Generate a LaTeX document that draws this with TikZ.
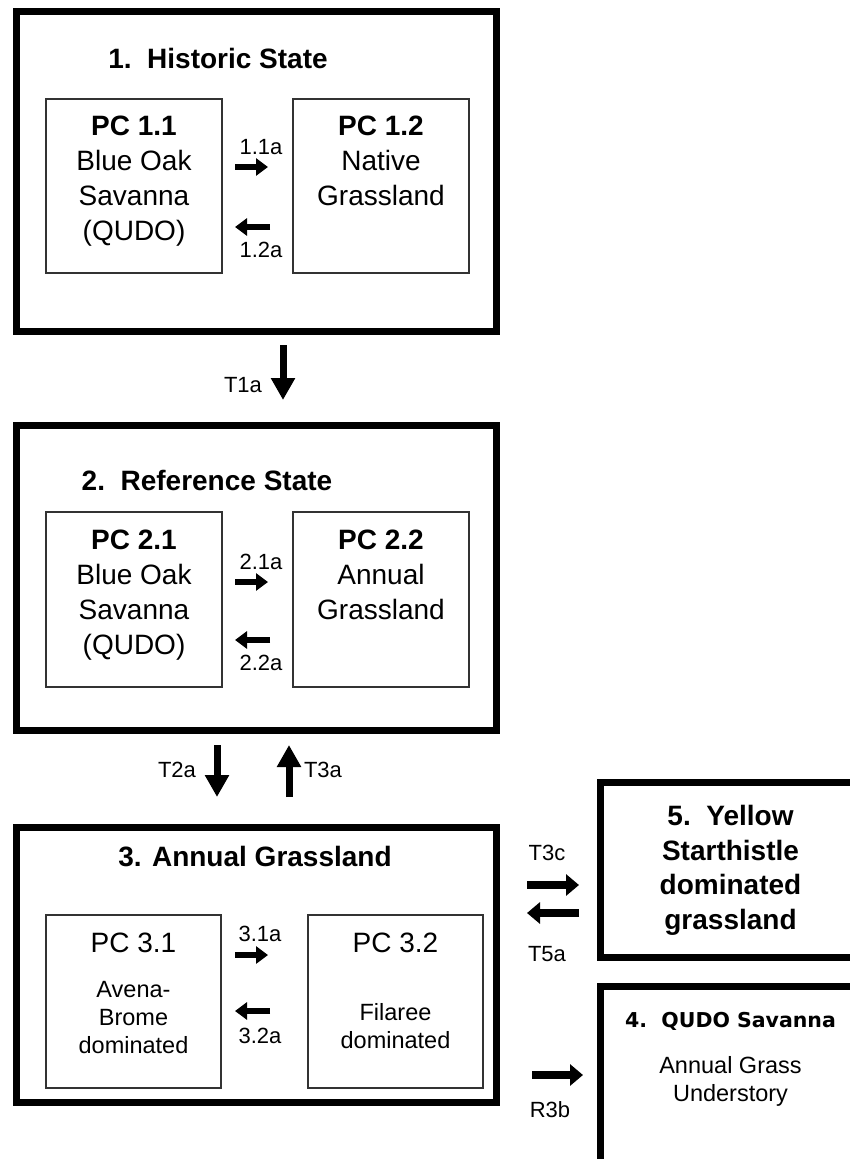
\documentclass[tikz,border=0pt]{standalone}
\usepackage{fontspec}
\setmainfont{Liberation Sans}
\newfontfamily\qudofont{DejaVu Sans}
\usetikzlibrary{arrows.meta,positioning}

\tikzset{
	state/.style={draw, line width=7pt, inner sep=0pt, outer sep=0pt},
	pcbox/.style={draw=black!80, line width=1.3pt, inner sep=0pt, outer sep=0pt, minimum width=176pt, minimum height=174pt},
	statetitle/.style={font=\fontsize{28}{34.5}\selectfont\bfseries, inner sep=0pt, align=center},
	pctext/.style={align=center, anchor=north, inner sep=0pt, font=\fontsize{28}{35}\selectfont},
	subtext/.style={align=center, anchor=north, inner sep=0pt, font=\fontsize{23.5}{28}\selectfont},
	lbl/.style={font=\fontsize{22}{24}\selectfont, inner sep=0pt},
	pcarrow/.style={line width=6pt, -{Triangle[length=12pt,width=17pt]}},
	sidearrow/.style={line width=7.5pt, -{Triangle[length=13pt,width=21pt]}},
	vertarrow/.style={line width=7pt, -{Triangle[length=22pt,width=23pt]}}
}

\begin{document}
\begin{tikzpicture}[x=1pt, y=-1pt]
		\useasboundingbox (0, 0) rectangle (850, 1159);

		\node[state, minimum width=480pt, minimum height=320pt] (s1) at (256.5, 171) {};
		\node[state, minimum width=480pt, minimum height=305pt] (s2) at (256.5, 577.5) {};
		\node[state, minimum width=480pt, minimum height=275pt] (s3) at (256.5, 964.5) {};
		\node[state, minimum width=261pt, minimum height=175pt] (s5) at (730.5, 869.5) {};
		\node[state, minimum width=261pt, minimum height=184pt] (s4) at (730.5, 1078) {};

		\node[statetitle] (t1) at (218, 58) {1.\ \ Historic State};
		\node[statetitle] (t2) at (207, 480) {2.\ \ Reference State};
		\node[statetitle] (t3) at (255, 857) {3. Annual Grassland};
		\node[statetitle, anchor=north, below=23pt of s5.north] (t5) {5.\ \ Yellow\\Starthistle\\dominated\\grassland};
		\node[anchor=north, inner sep=0pt, font=\qudofont\fontsize{20.5}{24}\selectfont\bfseries, below=26pt of s4.north] (t4) {4.\ \ QUDO Savanna};
		\node[subtext, below=70pt of s4.north] (s4txt) {Annual Grass\\Understory};

		\node[pcbox] (pc11) at (134, 186) {};
		\node[pcbox] (pc12) at (381, 186) {};
		\node[pcbox, minimum height=175pt] (pc21) at (134, 599.5) {};
		\node[pcbox, minimum height=175pt] (pc22) at (381, 599.5) {};
		\node[pcbox, minimum width=175pt, minimum height=173pt] (pc31) at (133.5, 1001.5) {};
		\node[pcbox, minimum width=175pt, minimum height=173pt] (pc32) at (395.5, 1001.5) {};

		\node[pctext, below=17pt of pc11.north] (pc11txt) {\textbf{PC 1.1}\\Blue Oak\\Savanna\\(QUDO)};
		\node[pctext, below=17pt of pc12.north] (pc12txt) {\textbf{PC 1.2}\\Native\\Grassland};
		\node[pctext, below=18pt of pc21.north] (pc21txt) {\textbf{PC 2.1}\\Blue Oak\\Savanna\\(QUDO)};
		\node[pctext, below=18pt of pc22.north] (pc22txt) {\textbf{PC 2.2}\\Annual\\Grassland};
		\node[pctext, below=18pt of pc31.north] (pc31head) {PC 3.1};
		\node[pctext, below=18pt of pc32.north] (pc32head) {PC 3.2};
		\node[subtext, below=66pt of pc31.north] (pc31txt) {Avena-\\Brome\\dominated};
		\node[subtext, below=88pt of pc32.north] (pc32txt) {Filaree\\dominated};

		\draw[pcarrow, shorten <=13pt, shorten >=25pt] ([yshift=19pt]pc11.east) -- ([yshift=19pt]pc12.west);
		\draw[pcarrow, shorten <=23pt, shorten >=13pt] ([yshift=-41pt]pc12.west) -- ([yshift=-41pt]pc11.east);
		\draw[pcarrow, shorten <=13pt, shorten >=25pt] ([yshift=17.5pt]pc21.east) -- ([yshift=17.5pt]pc22.west);
		\draw[pcarrow, shorten <=23pt, shorten >=13pt] ([yshift=-40.5pt]pc22.west) -- ([yshift=-40.5pt]pc21.east);
		\draw[pcarrow, shorten <=14pt, shorten >=40pt] ([yshift=46.5pt]pc31.east) -- ([yshift=46.5pt]pc32.west);
		\draw[pcarrow, shorten <=38pt, shorten >=14pt] ([yshift=-9.5pt]pc32.west) -- ([yshift=-9.5pt]pc31.east);

		\draw[vertarrow, shorten <=14pt, shorten >=25pt] ([xshift=26.5pt]s1.south) -- ([xshift=26.5pt]s2.north);
		\draw[vertarrow, shorten <=15pt, shorten >=30pt] ([xshift=-39.5pt]s2.south) -- ([xshift=-39.5pt]s3.north);
		\draw[vertarrow, shorten <=30pt, shorten >=15pt] ([xshift=32.5pt]s3.north) -- ([xshift=32.5pt]s2.south);

		\draw[sidearrow, shorten <=30.5pt, shorten >=21pt] ([yshift=79.5pt]s3.east) -- ([yshift=-15.5pt]s5.west);
		\draw[sidearrow, shorten <=21pt, shorten >=30.5pt] ([yshift=-43.5pt]s5.west) -- ([yshift=51.5pt]s3.east);
		\draw[sidearrow, shorten <=35.5pt, shorten >=17pt] ([yshift=-110.5pt]s3.east) -- ([yshift=3pt]s4.west);

		\node[lbl] (l11a) at (261, 147) {1.1a};
		\node[lbl] (l12a) at (261, 250) {1.2a};
		\node[lbl] (l21a) at (261, 562) {2.1a};
		\node[lbl] (l22a) at (261, 663) {2.2a};
		\node[lbl] (l31a) at (260, 934) {3.1a};
		\node[lbl] (l32a) at (260, 1036) {3.2a};
		\node[lbl] (lt1a) at (243, 385) {T1a};
		\node[lbl] (lt2a) at (177, 770) {T2a};
		\node[lbl] (lt3a) at (323, 770) {T3a};
		\node[lbl] (lt3c) at (547, 853) {T3c};
		\node[lbl] (lt5a) at (547, 954) {T5a};
		\node[lbl] (lr3b) at (550, 1110) {R3b};
	\end{tikzpicture}
\end{document}
